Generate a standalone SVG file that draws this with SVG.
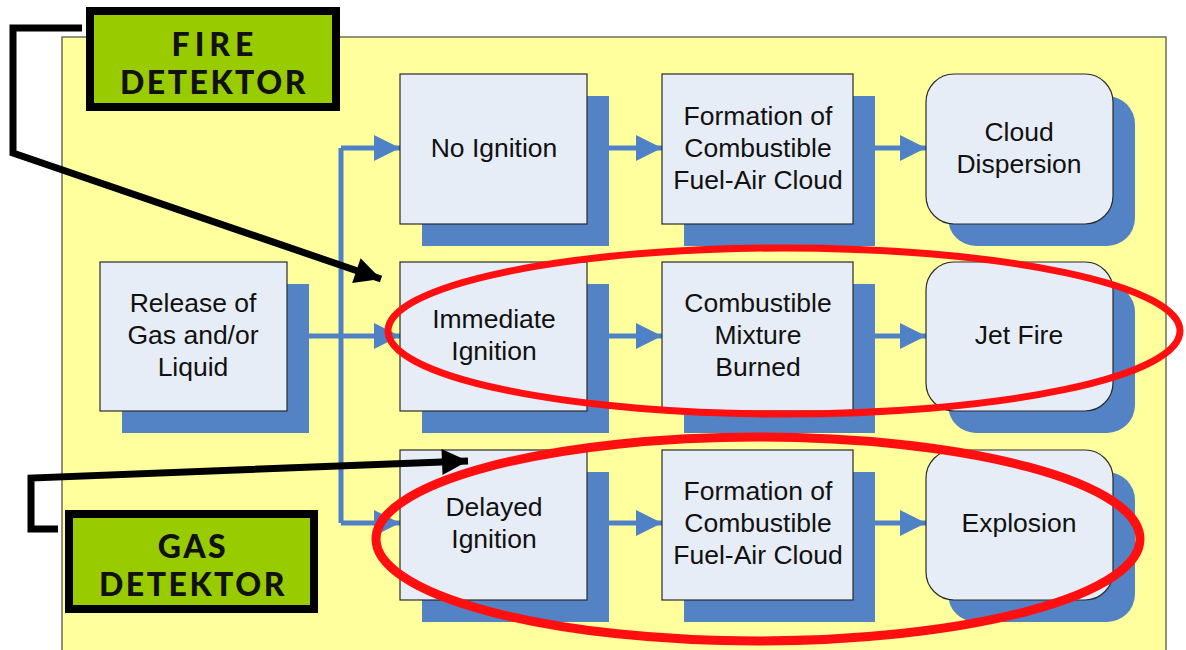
<svg xmlns="http://www.w3.org/2000/svg" width="1186" height="650" viewBox="0 0 1186 650">
  <defs>
    <style>
      .panel { fill: #ffff9e; stroke: #6e6e5a; stroke-width: 1.5; }
      .shadow { fill: #5483c5; }
      .box { fill: #e7edf6; stroke: #2a2a2a; stroke-width: 1.2; }
      .lbl { font-family: "Liberation Sans", Arial, sans-serif; font-size: 26.5px; fill: #111; text-anchor: middle; }
      .det { fill: #99cc00; stroke: #000; stroke-width: 8; }
      .detlbl { font-family: Lato, "DejaVu Sans", sans-serif; font-weight: 900; font-size: 32px; fill: #111; text-anchor: middle; letter-spacing: 2.5px; }
      .flow { fill: none; stroke: #4f81c6; stroke-width: 5; stroke-linejoin: round; }
      .pointer { fill: none; stroke: #000; stroke-width: 7; stroke-linejoin: miter; }
      .ring { fill: none; stroke: #ff0f0f; }
      .dot { fill: #4f81c6; }
    </style>
    <marker id="blueHead" viewBox="0 0 10 10" refX="10" refY="5" markerUnits="userSpaceOnUse" markerWidth="37" markerHeight="26" orient="auto">
      <path d="M0,0 L10,5 L0,10 Z" fill="#4f81c6"/>
    </marker>
    <marker id="blackHead" viewBox="0 0 10 10" refX="10" refY="5" markerUnits="userSpaceOnUse" markerWidth="30" markerHeight="26" orient="auto">
      <path d="M0,0 L10,5 L0,10 Z" fill="#000"/>
    </marker>
  </defs>

  <!-- background panel -->
  <rect class="panel" x="62" y="37" width="1104" height="630"/>

  <!-- flow connectors -->
  <g id="connectors">
    <path class="flow" d="M287,336 H341"/>
    <path class="flow" d="M341,148 V523"/>
    <path class="flow" d="M341,148 H400" marker-end="url(#blueHead)"/>
    <path class="flow" d="M341,336 H400" marker-end="url(#blueHead)"/>
    <path class="flow" d="M341,523 H400" marker-end="url(#blueHead)"/>
    <path class="flow" d="M587,148 H662" marker-end="url(#blueHead)"/>
    <path class="flow" d="M853,148 H926" marker-end="url(#blueHead)"/>
    <path class="flow" d="M587,336 H662" marker-end="url(#blueHead)"/>
    <path class="flow" d="M853,336 H926" marker-end="url(#blueHead)"/>
    <path class="flow" d="M587,523 H662" marker-end="url(#blueHead)"/>
    <path class="flow" d="M853,523 H926" marker-end="url(#blueHead)"/>
    <circle class="dot" cx="287" cy="336" r="3"/>
    <circle class="dot" cx="587" cy="148" r="3"/>
    <circle class="dot" cx="853" cy="148" r="3"/>
    <circle class="dot" cx="587" cy="336" r="3"/>
    <circle class="dot" cx="853" cy="336" r="3"/>
    <circle class="dot" cx="587" cy="523" r="3"/>
    <circle class="dot" cx="853" cy="523" r="3"/>
  </g>

  <!-- process nodes -->
  <g id="release">
    <rect class="shadow" x="122" y="284" width="187" height="149"/>
    <rect class="box" x="100" y="262" width="187" height="149"/>
    <text class="lbl" x="193" y="312">Release of</text>
    <text class="lbl" x="193" y="344">Gas and/or</text>
    <text class="lbl" x="193" y="376">Liquid</text>
  </g>

  <g id="no-ignition">
    <rect class="shadow" x="422" y="96" width="187" height="150"/>
    <rect class="box" x="400" y="74" width="187" height="150"/>
    <text class="lbl" x="494" y="157">No Ignition</text>
  </g>

  <g id="cloud-formation-1">
    <rect class="shadow" x="684" y="96" width="191" height="150"/>
    <rect class="box" x="662" y="74" width="191" height="150"/>
    <text class="lbl" x="758" y="125">Formation of</text>
    <text class="lbl" x="758" y="157">Combustible</text>
    <text class="lbl" x="758" y="189">Fuel-Air Cloud</text>
  </g>

  <g id="cloud-dispersion">
    <rect class="shadow" x="948" y="96" width="187" height="150" rx="28"/>
    <rect class="box" x="926" y="74" width="187" height="150" rx="28"/>
    <text class="lbl" x="1019" y="141">Cloud</text>
    <text class="lbl" x="1019" y="173">Dispersion</text>
  </g>

  <g id="immediate-ignition">
    <rect class="shadow" x="422" y="284" width="187" height="149"/>
    <rect class="box" x="400" y="262" width="187" height="149"/>
    <text class="lbl" x="494" y="328">Immediate</text>
    <text class="lbl" x="494" y="360">Ignition</text>
  </g>

  <g id="mixture-burned">
    <rect class="shadow" x="684" y="284" width="191" height="149"/>
    <rect class="box" x="662" y="262" width="191" height="149"/>
    <text class="lbl" x="758" y="312">Combustible</text>
    <text class="lbl" x="758" y="344">Mixture</text>
    <text class="lbl" x="758" y="376">Burned</text>
  </g>

  <g id="jet-fire">
    <rect class="shadow" x="948" y="284" width="187" height="149" rx="28"/>
    <rect class="box" x="926" y="262" width="187" height="149" rx="28"/>
    <text class="lbl" x="1019" y="344">Jet Fire</text>
  </g>

  <g id="delayed-ignition">
    <rect class="shadow" x="422" y="472" width="187" height="150"/>
    <rect class="box" x="400" y="450" width="187" height="150"/>
    <text class="lbl" x="494" y="516">Delayed</text>
    <text class="lbl" x="494" y="548">Ignition</text>
  </g>

  <g id="cloud-formation-2">
    <rect class="shadow" x="684" y="472" width="191" height="150"/>
    <rect class="box" x="662" y="450" width="191" height="150"/>
    <text class="lbl" x="758" y="500">Formation of</text>
    <text class="lbl" x="758" y="532">Combustible</text>
    <text class="lbl" x="758" y="564">Fuel-Air Cloud</text>
  </g>

  <g id="explosion">
    <rect class="shadow" x="948" y="472" width="187" height="150" rx="28"/>
    <rect class="box" x="926" y="450" width="187" height="150" rx="28"/>
    <text class="lbl" x="1019" y="532">Explosion</text>
  </g>

  <!-- detector pointers -->
  <g id="pointers">
    <path class="pointer" d="M82,28 H13 V153 L381,279" marker-end="url(#blackHead)"/>
    <path class="pointer" d="M58,529 H31 V478 L468,461" marker-end="url(#blackHead)"/>
  </g>

  <g id="fire-detektor">
    <rect class="det" x="90" y="11" width="246" height="96"/>
    <text class="detlbl" x="215" y="56" style="letter-spacing:5px">FIRE</text>
    <text class="detlbl" x="214" y="94">DETEKTOR</text>
  </g>

  <g id="gas-detektor">
    <rect class="det" x="69" y="514" width="245" height="95"/>
    <text class="detlbl" x="193" y="558">GAS</text>
    <text class="detlbl" x="193" y="596">DETEKTOR</text>
  </g>

  <!-- highlight rings -->
  <g id="highlights">
    <ellipse class="ring" cx="784" cy="331" rx="396" ry="83" stroke-width="7"/>
    <ellipse class="ring" cx="758" cy="539" rx="382" ry="102" stroke-width="9"/>
  </g>
</svg>
